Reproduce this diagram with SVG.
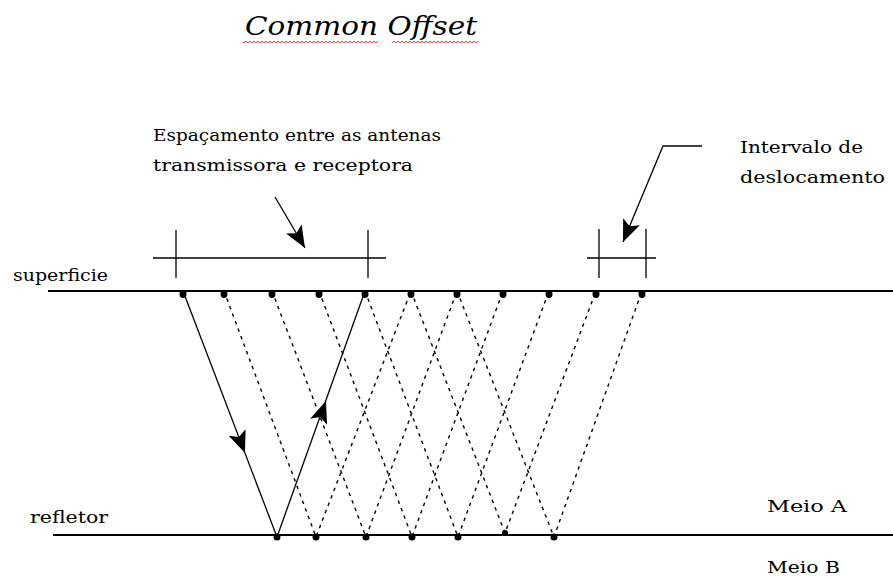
<svg xmlns="http://www.w3.org/2000/svg" width="893" height="579" viewBox="0 0 893 579">
<style>
.t{font-family:"DejaVu Serif","Liberation Serif",serif;font-size:16px;fill:#000}
.ln{stroke:#000;stroke-width:1.3;fill:none}
.thick{stroke:#000;stroke-width:2;fill:none}
.dash{stroke:#000;stroke-width:1.4;fill:none;stroke-dasharray:3.5 4.5}
.dot{fill:#000}
.head{fill:#000}
</style>
<defs>
<pattern id="wave" x="0" y="0" width="4" height="4" patternUnits="userSpaceOnUse">
<path d="M0,3 L2,1 L4,3" stroke="#f33" stroke-width="1" fill="none"/>
</pattern>
<polygon id="hd" points="0,0 -22,-9 -17,0 -22,9"/>
</defs>
<rect width="893" height="579" fill="#fff"/>

<g id="title">
<text x="245" y="35" class="t" style="font-style:italic;font-size:26px" textLength="232" lengthAdjust="spacingAndGlyphs">Common Offset</text>
<rect x="243" y="40" width="135" height="4" fill="url(#wave)"/>
<rect x="392" y="40" width="86" height="4" fill="url(#wave)"/>
</g>

<g id="label-espacamento">
<text x="153" y="141" class="t" textLength="288" lengthAdjust="spacingAndGlyphs">Espaçamento entre as antenas</text>
<text x="153" y="171" class="t" textLength="260" lengthAdjust="spacingAndGlyphs">transmissora e receptora</text>
</g>
<g id="label-intervalo">
<text x="740" y="153" class="t" textLength="123" lengthAdjust="spacingAndGlyphs">Intervalo de</text>
<text x="740" y="183" class="t" textLength="145" lengthAdjust="spacingAndGlyphs">deslocamento</text>
</g>
<g id="label-superficie"><text x="13" y="281" class="t" textLength="95" lengthAdjust="spacingAndGlyphs">superficie</text></g>
<g id="label-refletor"><text x="30" y="523" class="t" textLength="78" lengthAdjust="spacingAndGlyphs">refletor</text></g>
<g id="label-meioA"><text x="767" y="512" class="t" textLength="80" lengthAdjust="spacingAndGlyphs">Meio A</text></g>
<g id="label-meioB"><text x="767" y="573" class="t" textLength="73" lengthAdjust="spacingAndGlyphs">Meio B</text></g>

<g id="superficie-line"><line x1="48" y1="291" x2="893" y2="291" class="thick"/></g>
<g id="refletor-line"><line x1="53" y1="535" x2="893" y2="535" class="thick"/></g>

<g id="bracket-spacing">
<line x1="153" y1="258" x2="386" y2="258" class="ln"/>
<line x1="176" y1="230" x2="176" y2="278" class="ln"/>
<line x1="368" y1="230" x2="368" y2="278" class="ln"/>
</g>
<g id="bracket-interval">
<line x1="587" y1="258" x2="656" y2="258" class="ln"/>
<line x1="599" y1="229" x2="599" y2="278" class="ln"/>
<line x1="646" y1="229" x2="646" y2="278" class="ln"/>
</g>

<g id="connectors">
<path d="M275,197 L305,248" class="ln"/>
<use href="#hd" class="head" transform="translate(305,248) rotate(59.5)"/>
<path d="M702,146 L663,146 L623,242" class="ln"/>
<use href="#hd" class="head" transform="translate(623,242) rotate(112.6)"/>
<path d="M183,291 L277,537" class="ln"/>
<use href="#hd" class="head" transform="translate(245,453) rotate(69.1)"/>
<path d="M277,537 L365,291" class="ln"/>
<use href="#hd" class="head" transform="translate(326,401) rotate(-70.3)"/>
<path d="M224,291 L316,537 L411,291" class="dash"/>
<path d="M272,291 L366,537 L457,291" class="dash"/>
<path d="M319,291 L412,537 L503,291" class="dash"/>
<path d="M365,291 L458,537 L549,291" class="dash"/>
<path d="M411,291 L505,533 L596,291" class="dash"/>
<path d="M457,291 L554,537 L642,291" class="dash"/>
</g>

<g id="surface-points">
<ellipse cx="183" cy="294" rx="3.5" ry="4" class="dot"/>
<ellipse cx="224" cy="294" rx="3.5" ry="4" class="dot"/>
<ellipse cx="272" cy="294" rx="3.5" ry="4" class="dot"/>
<ellipse cx="319" cy="294" rx="3.5" ry="4" class="dot"/>
<ellipse cx="365" cy="294" rx="3.5" ry="4" class="dot"/>
<ellipse cx="411" cy="294" rx="3.5" ry="4" class="dot"/>
<ellipse cx="457" cy="294" rx="3.5" ry="4" class="dot"/>
<ellipse cx="503" cy="294" rx="3.5" ry="4" class="dot"/>
<ellipse cx="549" cy="294" rx="3.5" ry="4" class="dot"/>
<ellipse cx="596" cy="294" rx="3.5" ry="4" class="dot"/>
<ellipse cx="642" cy="294" rx="3.5" ry="4" class="dot"/>
</g>
<g id="reflector-points">
<circle cx="277" cy="537" r="3.5" class="dot"/>
<circle cx="316" cy="537" r="3.5" class="dot"/>
<circle cx="366" cy="537" r="3.5" class="dot"/>
<circle cx="412" cy="537" r="3.5" class="dot"/>
<circle cx="458" cy="537" r="3.5" class="dot"/>
<circle cx="505" cy="533" r="3" class="dot"/>
<circle cx="554" cy="537" r="3.5" class="dot"/>
</g>
</svg>
